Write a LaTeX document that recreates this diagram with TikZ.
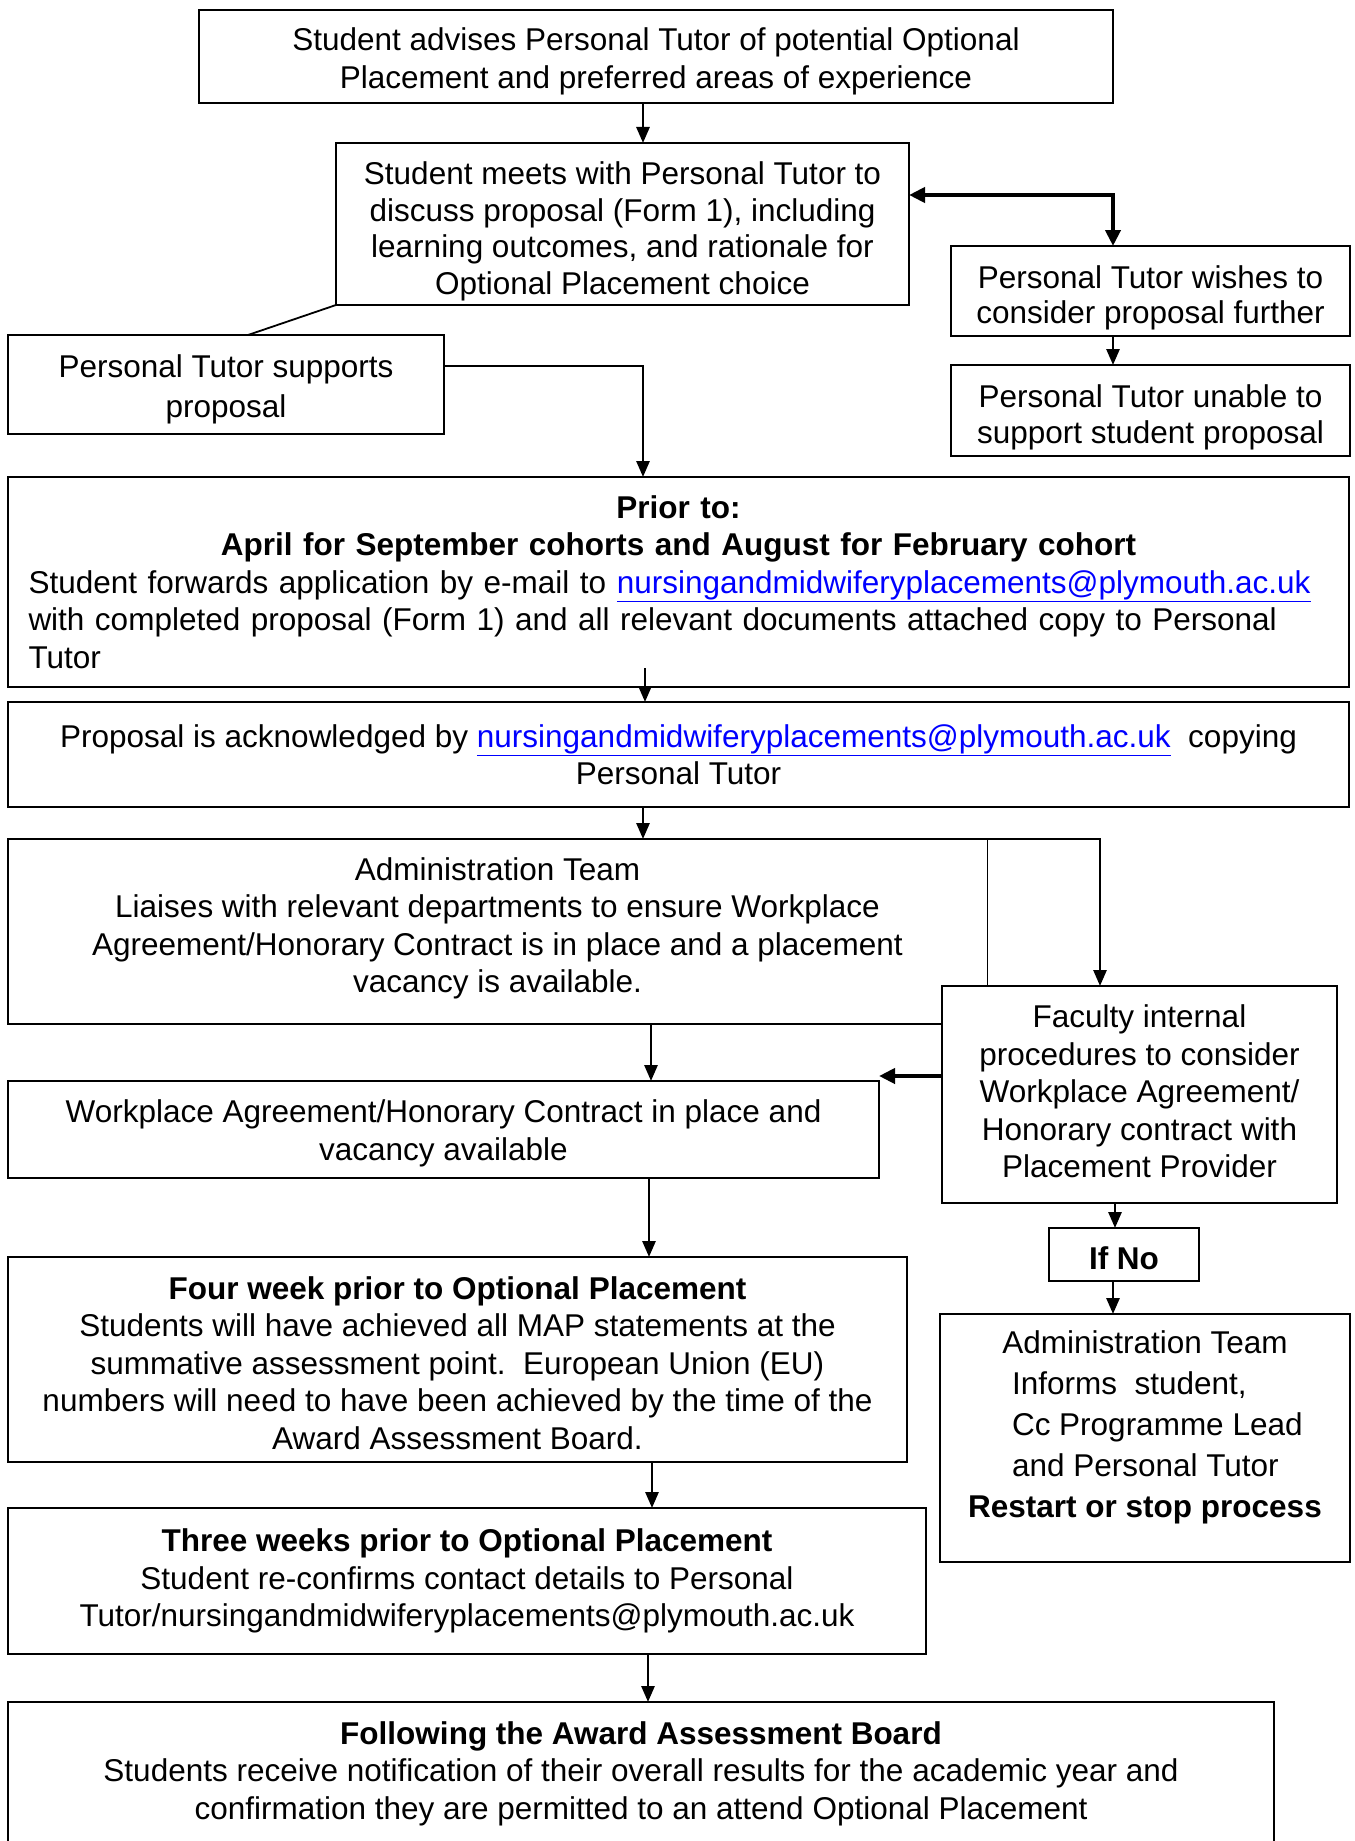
\documentclass[tikz,border=0pt]{standalone}
\usepackage{fontspec}
\setmainfont{Liberation Sans}
\usetikzlibrary{arrows.meta,calc}
\definecolor{linkblue}{RGB}{0,0,255}
\newcommand{\mylink}{\textcolor{linkblue}{\underline{nursingandmidwiferyplacements@plymouth.ac.uk}}}
\begin{document}
\begin{tikzpicture}[x=1pt,y=-1pt,
  box/.style={draw, line width=1.8pt, fill=white, inner sep=0pt, outer sep=0pt, align=center,
    font=\fontsize{31.5}{37.5}\selectfont},
  txt/.style={inner sep=0pt, align=center, font=\fontsize{31.5}{37.5}\selectfont},
  arr/.style={line width=2.8pt, -{Triangle[length=16pt,width=13pt]}},
  tarr/.style={line width=4pt, -{Triangle[length=16pt,width=15pt]}},
  darr/.style={line width=4pt, {Triangle[length=16pt,width=15pt]}-{Triangle[length=16pt,width=15pt]}},
  plain/.style={line width=1.8pt}]
\useasboundingbox (0,0) rectangle (1354,1841);
\fill[white] (0,0) rectangle (1354,1841);

% boxes
\node[box, minimum width=914pt, minimum height=93pt] (top) at (656,56.5) {};
\node[txt] (top-t) at ($(top.center)+(0,4.7)$)
  {Student advises Personal Tutor of potential Optional\\Placement and preferred areas of experience};
\node[box, minimum width=573pt, minimum height=162pt] (meet) at (622.5,224) {};
\node[txt, font=\fontsize{31.5}{36.5}\selectfont] (meet-t) at ($(meet.center)+(0,7.6)$)
  {Student meets with Personal Tutor to\\discuss proposal (Form 1), including\\learning outcomes, and rationale for\\Optional Placement choice};
\node[box, minimum width=399pt, minimum height=90pt] (wishes) at (1150.5,291) {};
\node[txt, font=\fontsize{31.5}{35.5}\selectfont] (wishes-t) at ($(wishes.center)+(0,7)$)
  {Personal Tutor wishes to\\consider proposal further};
\node[box, minimum width=399pt, minimum height=91pt] (unable) at (1150.5,410.5) {};
\node[txt, font=\fontsize{31.5}{35.5}\selectfont] (unable-t) at ($(unable.center)+(0,7)$)
  {Personal Tutor unable to\\support student proposal};
\node[box, minimum width=436pt, minimum height=99pt] (supports) at (226,384.5) {};
\node[txt, font=\fontsize{31.5}{40}\selectfont] (supports-t) at ($(supports.center)+(0,4.7)$)
  {Personal Tutor supports\\proposal};
\node[box, minimum width=1341pt, minimum height=210pt, text width=1300pt, align=left] (prior) at (678.5,582)
  {\centering\textbf{Prior to:}\\\textbf{April for September cohorts and August for February cohort}\par
   \raggedright Student forwards application by e-mail to \mylink\\with completed proposal (Form 1) and all relevant documents attached copy to Personal\\Tutor};
\node[box, minimum width=1341pt, minimum height=105pt] (ack) at (678.5,754.5)
  {Proposal is acknowledged by \mylink\ \ copying\\Personal Tutor};
\node[box, draw=none, minimum width=979pt, minimum height=185pt] (admin) at (497.5,931.5) {};
\node[txt] (admin-t) at ($(admin.center)+(0,-3)$)
  {Administration Team\\Liaises with relevant departments to ensure Workplace\\Agreement/Honorary Contract is in place and a placement\\vacancy is available.};
\draw[plain] (admin.north east) -- (admin.north west) -- (admin.south west) -- (admin.south east);
\draw[line width=1pt] (admin.north east) -- (admin.south east);
\node[box, minimum width=395pt, minimum height=217pt] (faculty) at (1139.5,1094.5) {};
\node[txt] (faculty-t) at ($(faculty.center)+(0,-3)$)
  {Faculty internal\\procedures to consider\\Workplace Agreement/\\Honorary contract with\\Placement Provider};
\node[box, minimum width=871pt, minimum height=97pt] (workplace) at (443.5,1129.5) {};
\node[txt] (workplace-t) at ($(workplace.center)+(0,4)$)
  {Workplace Agreement/Honorary Contract in place and\\vacancy available};
\node[box, minimum width=150pt, minimum height=53pt] (ifno) at (1124,1254.5) {};
\node[txt] (ifno-t) at ($(ifno.center)+(0,4)$) {\textbf{If No}};
\node[box, minimum width=410pt, minimum height=248pt] (informs) at (1145,1438) {};
\node[txt, font=\fontsize{31.5}{41}\selectfont] (informs-t) at (1145,1427.5)
  {Administration Team\\\makebox[266pt][l]{Informs\ \ student,}\\\makebox[266pt][l]{Cc Programme Lead}\\\makebox[266pt][l]{and Personal Tutor}\\\textbf{Restart or stop process}};
\node[box, minimum width=899pt, minimum height=205pt] (fourweek) at (457.5,1359.5) {};
\node[txt] (fourweek-t) at ($(fourweek.center)+(0,3.5)$)
  {\textbf{Four week prior to Optional Placement}\\Students will have achieved all MAP statements at the\\summative assessment point.\ \ European Union (EU)\\numbers will need to have been achieved by the time of the\\Award Assessment Board.};
\node[box, minimum width=918pt, minimum height=146pt] (three) at (467,1581)
  {\textbf{Three weeks prior to Optional Placement}\\Student re-confirms contact details to Personal\\Tutor/nursingandmidwiferyplacements@plymouth.ac.uk};
\node[box, minimum width=1266pt, minimum height=198pt] (following) at (641,1801) {};
\node[txt] (following-t) at (641,1773.5)
  {\textbf{Following the Award Assessment Board}\\Students receive notification of their overall results for the academic year and\\confirmation they are permitted to an attend Optional Placement};

% connector columns
\coordinate (c1) at (643,0);
\coordinate (c2) at (1113,195);
\coordinate (c3) at (248,0);
\coordinate (c4) at (643,366);
\coordinate (c5) at (645,668);
\coordinate (c6) at (643,0);
\coordinate (c7) at (1100,0);
\coordinate (c8) at (651,0);
\coordinate (c9) at (0,1076);
\coordinate (c10) at (649,0);
\coordinate (c11) at (1115,0);
\coordinate (c12) at (1113,0);
\coordinate (c13) at (652,0);
\coordinate (c14) at (648,0);

% connectors
\draw[arr] (top.south -| c1) -- (meet.north -| c1);
\draw[darr] (meet.east |- c2) -| (wishes.north -| c2);
\draw[arr] (wishes.south -| c2) -- (unable.north -| c2);
\draw[plain] (meet.south west) -- (supports.north -| c3);
\draw[arr] (supports.east |- c4) -| (prior.north -| c4);
\draw[arr] (c5) -- (ack.north -| c5);
\draw[arr] (ack.south -| c6) -- (admin.north -| c6);
\draw[arr] (admin.north east) -| (faculty.north -| c7);
\draw[arr] (admin.south -| c8) -- (workplace.north -| c8);
\draw[tarr] (faculty.west |- c9) -- (workplace.east |- c9);
\draw[arr] (workplace.south -| c10) -- (fourweek.north -| c10);
\draw[arr] (faculty.south -| c11) -- (ifno.north -| c11);
\draw[arr] (ifno.south -| c12) -- (informs.north -| c12);
\draw[arr] (fourweek.south -| c13) -- (three.north -| c13);
\draw[arr] (three.south -| c14) -- (following.north -| c14);
\end{tikzpicture}
\end{document}
